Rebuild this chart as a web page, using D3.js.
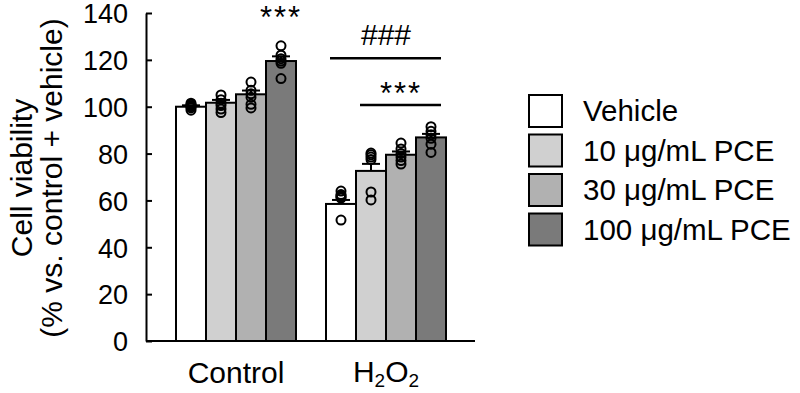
<!DOCTYPE html>
<html>
<head>
<meta charset="utf-8">
<script src="https://cdn.jsdelivr.net/npm/d3@7"></script>
<style>
  body { margin: 0; background: #fff; }
  svg { font-family: "Liberation Sans", Arial, sans-serif; }
</style>
</head>
<body>
<svg id="chart" width="800" height="393"></svg>
<script>
'use strict';

// groups on the x axis and the four treatments
var groups = ["Control", "H2O2"];
var treatments = ["Vehicle", "10 \u03bcg/mL PCE", "30 \u03bcg/mL PCE", "100 \u03bcg/mL PCE"];
var fills = ["#ffffff", "#d0d0d0", "#b1b1b1", "#7a7a7a"];

// bar heights (mean) and SEM, one value per treatment
var controlMeans = [100, 101.7, 105.3, 119.5];
var h2o2Means = [58.5, 72.6, 79.5, 86.9];
var controlSem = [0.6, 1.2, 1.6, 2.0];
var h2o2Sem = [1.7, 3.0, 1.4, 1.5];

// individual replicates
var controlPoints = [
    [98.5, 99.5, 100, 100.5, 101, 101.5],
    [97.5, 99, 100.5, 101.5, 103, 105],
    [99.5, 101, 104, 105.5, 107, 110.5],
    [112, 118.5, 119.5, 120.5, 122, 126]
];
var h2o2Points = [
    [51.6, 61, 61.5, 62, 62.5, 64],
    [60.2, 63.6, 77.5, 78.5, 79.5, 80.2],
    [75.5, 77, 78.5, 80, 82, 84.5],
    [80.5, 84, 86.5, 88, 89.5, 91.5]
];

var yTicks = [0, 20, 40, 60, 80, 100, 120, 140];

// significance marks: group, first/last treatment, line level, label baseline level
var sigMarks = [
    { group: "Control", from: 3, to: 3, level: null, textLevel: 133.4, label: "***" },
    { group: "H2O2", from: 0, to: 3, level: 120.7, textLevel: 126.3, label: "###" },
    { group: "H2O2", from: 1, to: 3, level: 100.7, textLevel: 101, label: "***" }
];

var svg = d3.select("#chart");

var y = d3.scaleLinear().domain([0, 140]).range([341, 13]);
var x0 = d3.scaleBand().domain(groups).range([161, 461]);
var x1 = d3.scaleBand().domain(d3.range(treatments.length))
           .range([15, x0.bandwidth() - 15]);

var data = [
    { group: "Control", means: controlMeans, sem: controlSem, points: controlPoints },
    { group: "H2O2", means: h2o2Means, sem: h2o2Sem, points: h2o2Points }
];

// axes
var yAxis = d3.axisLeft(y).tickValues(yTicks).tickSizeInner(-6).tickSizeOuter(0).tickPadding(18);
var gy = svg.append("g").attr("transform", "translate(146,0)").call(yAxis);
gy.select(".domain").attr("stroke", "#000").attr("stroke-width", 2);
gy.selectAll(".tick line").attr("stroke", "#000").attr("stroke-width", 2);
gy.selectAll(".tick text").attr("font-size", 27).attr("fill", "#000")
  .attr("font-family", "Liberation Sans, Arial, sans-serif").attr("dy", "0.36em");

svg.append("line")
   .attr("x1", 146).attr("x2", 475)
   .attr("y1", y(0)).attr("y2", y(0))
   .attr("stroke", "#000").attr("stroke-width", 2);

// y title
var yTitle = svg.append("text")
   .attr("transform", "translate(0," + 178 + ") rotate(-90)")
   .attr("text-anchor", "middle")
   .attr("font-size", 30)
   .attr("fill", "#000");
yTitle.append("tspan").attr("x", 0).attr("y", 32).text("Cell viability");
yTitle.append("tspan").attr("x", 0).attr("y", 62).text("(% vs. control + vehicle)");

// x labels
svg.append("text")
   .attr("x", x0("Control") + x0.bandwidth() / 2).attr("y", 383)
   .attr("text-anchor", "middle").attr("font-size", 30).text("Control");
var h2 = svg.append("text")
   .attr("x", x0("H2O2") + x0.bandwidth() / 2).attr("y", 382)
   .attr("text-anchor", "middle").attr("font-size", 30);
h2.append("tspan").text("H");
h2.append("tspan").attr("font-size", 19).attr("dy", 5).text("2");
h2.append("tspan").attr("dy", -5).text("O");
h2.append("tspan").attr("font-size", 19).attr("dy", 5).text("2");

// bars
var gGroups = svg.selectAll(".grp").data(data).enter().append("g")
   .attr("class", "grp")
   .attr("transform", d => "translate(" + x0(d.group) + ",0)");

gGroups.selectAll("rect")
   .data(d => d.means.map((m, i) => ({ i: i, m: m })))
   .enter().append("rect")
   .attr("x", d => x1(d.i))
   .attr("width", x1.bandwidth())
   .attr("y", d => y(d.m))
   .attr("height", d => y(0) - y(d.m))
   .attr("fill", d => fills[d.i])
   .attr("stroke", "#000")
   .attr("stroke-width", 2);

// error bars (upper only)
gGroups.each(function(d) {
    var g = d3.select(this);
    d.means.forEach(function(m, i) {
        var cx = x1(i) + x1.bandwidth() / 2;
        var top = y(m + d.sem[i]);
        g.append("line").attr("x1", cx).attr("x2", cx)
         .attr("y1", y(m)).attr("y2", top)
         .attr("stroke", "#000").attr("stroke-width", 2);
        g.append("line").attr("x1", cx - 9).attr("x2", cx + 9)
         .attr("y1", top).attr("y2", top)
         .attr("stroke", "#000").attr("stroke-width", 2);
    });
});

// replicate points
gGroups.each(function(d) {
    var g = d3.select(this);
    d.points.forEach(function(pts, i) {
        var cx = x1(i) + x1.bandwidth() / 2;
        g.selectAll(null).data(pts).enter().append("circle")
         .attr("cx", cx).attr("cy", v => y(v)).attr("r", 4.5)
         .attr("fill", "none").attr("stroke", "#000").attr("stroke-width", 2);
    });
});

// significance lines and labels
sigMarks.forEach(function(s) {
    var left = x0(s.group) + x1(s.from);
    var right = x0(s.group) + x1(s.to) + x1.bandwidth();
    if (s.level !== null) {
        svg.append("line")
           .attr("x1", left + 4).attr("x2", right - 5)
           .attr("y1", y(s.level)).attr("y2", y(s.level))
           .attr("stroke", "#000").attr("stroke-width", 2.5);
    }
    svg.append("text")
       .attr("x", (left + right) / 2).attr("y", y(s.textLevel))
       .attr("text-anchor", "middle")
       .attr("font-size", s.label === "###" ? 30 : 31)
       .attr("letter-spacing", s.label === "###" ? 0 : 2)
       .text(s.label);
});

// legend
var legend = svg.append("g").attr("transform", "translate(529,95)");
var items = legend.selectAll("g").data(treatments).enter().append("g")
   .attr("transform", (d, i) => "translate(0," + i * 39.5 + ")");
items.append("rect").attr("width", 33).attr("height", 32)
   .attr("fill", (d, i) => fills[i]).attr("stroke", "#000").attr("stroke-width", 2);
items.append("text").attr("x", 54).attr("y", 26)
   .attr("font-size", 29.5).text(d => d);
</script>
</body>
</html>
